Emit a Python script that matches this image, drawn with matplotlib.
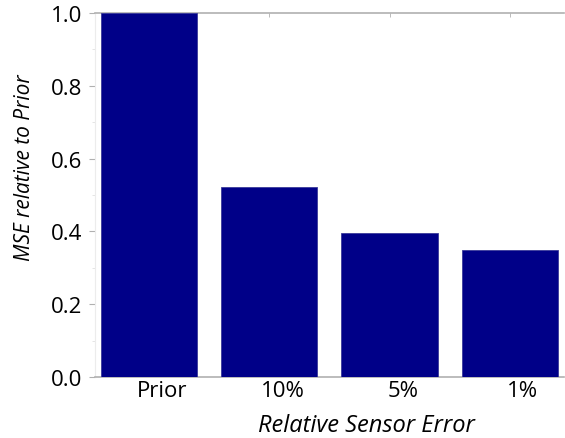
import numpy as np
import matplotlib.pyplot as plt
import matplotlib.ticker as ticker

# data
categories = ["Prior", "10%", "5%", "1%"]
mse_rel = [1.0, 0.523, 0.395, 0.348]

BAR_COLOR = "#000088"
AXIS_GRAY = "#b0b0b0"

plt.rcParams["font.family"] = ["Open Sans", "DejaVu Sans"]

fig = plt.figure(figsize=(5.65, 4.39), dpi=100)
ax = fig.add_axes([0.168, 0.139, 0.830, 0.829])

x = np.arange(len(categories))
ax.bar(x, mse_rel, width=0.8, color=BAR_COLOR, edgecolor="#3a3a9a", linewidth=0.6, zorder=3)

ax.set_xlim(-0.45, 3.45)
ax.set_ylim(0, 1.0)
ax.set_yticks(np.arange(0, 1.01, 0.2))
ax.yaxis.set_major_formatter(ticker.FormatStrFormatter("%.1f"))
ax.yaxis.set_minor_locator(ticker.MultipleLocator(0.1))

# labels sit a bit right of the bar centres in the original (tick marks hidden)
ax.set_xticks(x + 0.11)
ax.set_xticklabels(categories)

ax.set_xticks([1, 2, 3], minor=True)
ax.tick_params(axis="x", which="major", length=0, labelsize=16, pad=2)
ax.tick_params(axis="x", which="minor", bottom=False, top=True, direction="in",
               length=3, color=AXIS_GRAY)
ax.tick_params(axis="y", which="major", length=4, color=AXIS_GRAY, labelsize=16, pad=5)
ax.tick_params(axis="y", which="minor", length=2, color="#e0e0e0")

for side in ["top", "bottom"]:
    ax.spines[side].set_color(AXIS_GRAY)
    ax.spines[side].set_linewidth(1.2)
ax.spines["left"].set_color("#ececec")
ax.spines["right"].set_visible(False)

ax.set_ylabel("MSE relative to Prior", fontsize=15, style="italic")
ax.yaxis.set_label_coords(-0.128, 0.577)
ax.set_xlabel("Relative Sensor Error", fontsize=17, style="italic")
ax.xaxis.set_label_coords(0.58, -0.1)

fig.savefig("out.png", dpi=100)
